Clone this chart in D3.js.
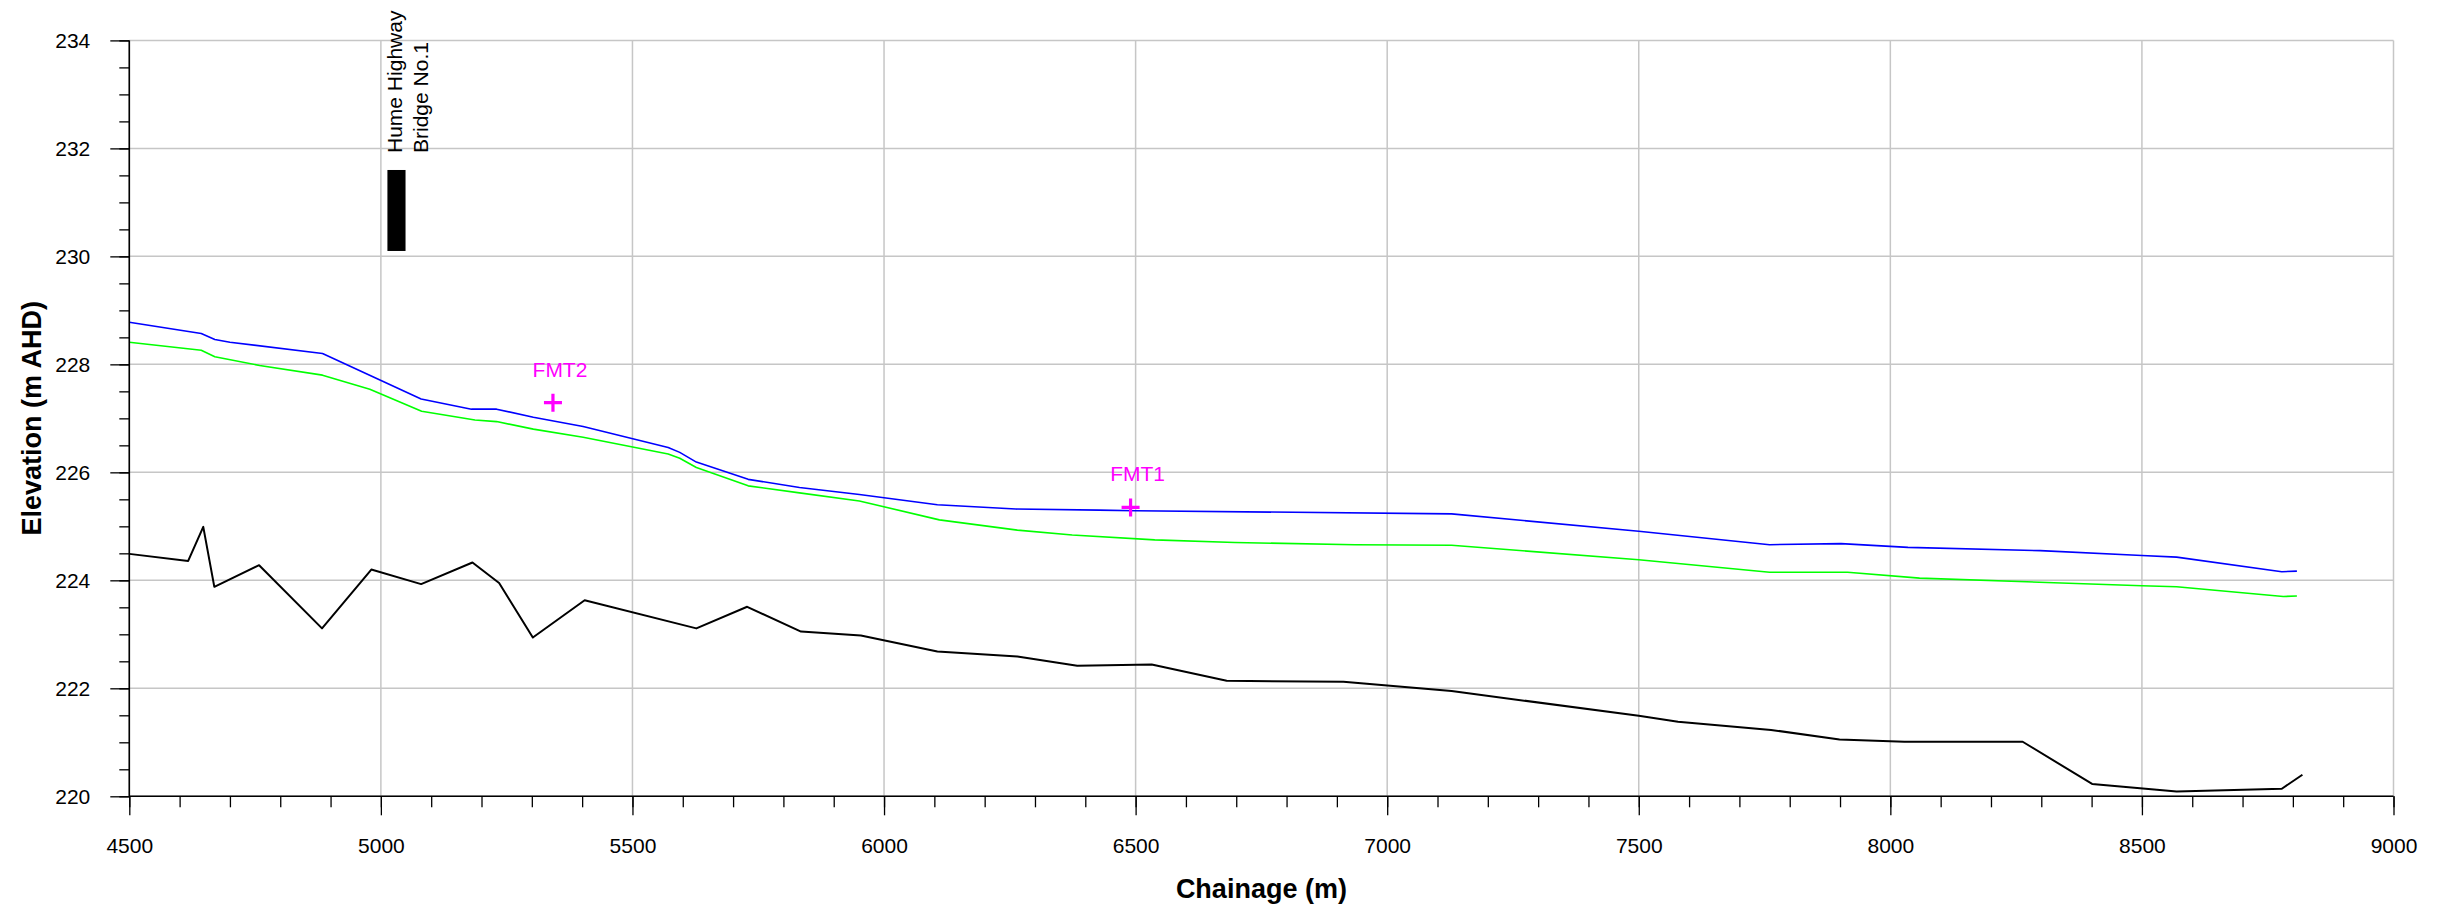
<!DOCTYPE html>
<html>
<head>
<meta charset="utf-8">
<script src="https://cdn.jsdelivr.net/npm/d3@7"></script>
<style>
  body { margin: 0; background: #fff; }
  svg { display: block; font-family: "Liberation Sans", Arial, sans-serif; }
</style>
</head>
<body>
<svg id="chart"></svg>
<script>
// water level (blue)
const blueChainage = [4500, 4643, 4670, 4700, 4884, 5080, 5180, 5230, 5303, 5402, 5571, 5594, 5627, 5730, 5832, 5951, 6106, 6262, 6427, 6500, 7128, 7500, 7760, 7902, 8035, 8298, 8500, 8569, 8778, 8808];
const blueLevel = [228.78, 228.57, 228.46, 228.41, 228.20, 227.36, 227.17, 227.17, 227.02, 226.85, 226.46, 226.37, 226.19, 225.87, 225.72, 225.59, 225.40, 225.32, 225.30, 225.29, 225.23, 224.91, 224.66, 224.68, 224.61, 224.55, 224.46, 224.43, 224.16, 224.17];

// water level (green)
const greenChainage = [4500, 4643, 4670, 4759, 4884, 4978, 5081, 5187, 5230, 5303, 5402, 5571, 5594, 5627, 5730, 5832, 5951, 6110, 6265, 6374, 6538, 6697, 6936, 7128, 7500, 7760, 7915, 8058, 8500, 8569, 8781, 8808];
const greenLevel = [228.41, 228.26, 228.14, 227.98, 227.80, 227.54, 227.13, 226.97, 226.94, 226.80, 226.65, 226.34, 226.26, 226.09, 225.75, 225.62, 225.47, 225.12, 224.93, 224.84, 224.75, 224.70, 224.66, 224.65, 224.38, 224.15, 224.15, 224.04, 223.90, 223.88, 223.70, 223.71];

// bed level (black)
const bedChainage = [4500, 4617, 4647, 4669, 4758, 4883, 4981, 5080, 5182, 5235, 5302, 5405, 5627, 5728, 5835, 5954, 6106, 6265, 6384, 6532, 6681, 6913, 7128, 7500, 7578, 7763, 7899, 8028, 8263, 8401, 8569, 8778, 8819];
const bedLevel = [224.49, 224.36, 224.99, 223.88, 224.28, 223.11, 224.20, 223.93, 224.33, 223.95, 222.94, 223.63, 223.11, 223.51, 223.05, 222.98, 222.68, 222.59, 222.42, 222.44, 222.14, 222.12, 221.95, 221.49, 221.38, 221.23, 221.05, 221.01, 221.01, 220.23, 220.09, 220.14, 220.40];

// flood marks
const markNames = ["FMT2", "FMT1"];
const markChainage = [5342, 6490];
const markLevel = [227.29, 225.35];

// bridge
const bridgeLabel = ["Hume Highway", "Bridge No.1"];
const bridgeChainage = [5013, 5049];
const bridgeLevel = [230.1, 231.6];

// axes
const xTicks = d3.range(4500, 9001, 500);
const xMinorTicks = d3.range(4500, 9001, 100);
const yTicks = d3.range(220, 234.1, 2);
const yMinorTicks = d3.range(220, 234.1, 0.5);

const W = 2443, H = 910;
const margin = {top: 40.4, right: 49.5, bottom: 113.7, left: 129.3};
const width = W - margin.left - margin.right;
const height = H - margin.top - margin.bottom;
const gridColor = "#c6c6c6";
const fontFamily = '"Liberation Sans", Arial, sans-serif';

const svg = d3.select("#chart")
    .attr("width", W)
    .attr("height", H);

const g = svg.append("g")
    .attr("transform", `translate(${margin.left},${margin.top})`);

const x = d3.scaleLinear().domain([4500, 9000]).range([0, width]);
const y = d3.scaleLinear().domain([220, 234]).range([height, 0]);

// grid
g.append("g")
  .selectAll("line")
  .data(yTicks)
  .join("line")
    .attr("x1", 0).attr("x2", width)
    .attr("y1", d => y(d)).attr("y2", d => y(d))
    .attr("stroke", gridColor)
    .attr("stroke-width", 1.5);

g.append("g")
  .selectAll("line")
  .data(xTicks)
  .join("line")
    .attr("x1", d => x(d)).attr("x2", d => x(d))
    .attr("y1", 0).attr("y2", height)
    .attr("stroke", gridColor)
    .attr("stroke-width", 1.5);

// series
const line = d3.line()
    .x(d => x(d[0]))
    .y(d => y(d[1]));

const series = [
    {pts: d3.zip(bedChainage, bedLevel), color: "#000000", w: 2},
    {pts: d3.zip(greenChainage, greenLevel), color: "#00ff00", w: 1.6},
    {pts: d3.zip(blueChainage, blueLevel), color: "#0000ff", w: 1.6}
];

g.append("g")
  .selectAll("path")
  .data(series)
  .join("path")
    .attr("d", d => line(d.pts))
    .attr("fill", "none")
    .attr("stroke", d => d.color)
    .attr("stroke-width", d => d.w)
    .attr("stroke-linejoin", "round");

// bridge deck
g.append("rect")
    .attr("x", x(bridgeChainage[0]))
    .attr("y", y(bridgeLevel[1]))
    .attr("width", x(bridgeChainage[1]) - x(bridgeChainage[0]))
    .attr("height", y(bridgeLevel[0]) - y(bridgeLevel[1]))
    .attr("fill", "#000");

g.append("g")
  .selectAll("text")
  .data(bridgeLabel)
  .join("text")
    .attr("transform", (d, i) => `translate(${x(bridgeChainage[0]) + 15 + i * 26},${y(bridgeLevel[1]) - 17}) rotate(-90)`)
    .attr("font-size", 21)
    .attr("fill", "#000")
    .text(d => d);

// flood marks
const marks = g.append("g")
  .selectAll("g")
  .data(d3.zip(markNames, markChainage, markLevel))
  .join("g")
    .attr("transform", d => `translate(${x(d[1])},${y(d[2])})`);

marks.append("path")
    .attr("d", "M-9,0H9M0,-9V9")
    .attr("stroke", "#ff00ff")
    .attr("stroke-width", 3.2);

marks.append("text")
    .attr("x", 7)
    .attr("y", -26)
    .attr("text-anchor", "middle")
    .attr("font-size", 21)
    .attr("fill", "#ff00ff")
    .text(d => d[0]);

// axes
const styleAxis = sel => {
    sel.attr("font-family", fontFamily).attr("font-size", 21);
    sel.select(".domain").remove();
    sel.selectAll(".tick line").attr("stroke", "#000").attr("stroke-width", 1.3);
    sel.selectAll(".tick text").attr("fill", "#000");
};

g.append("g")
    .attr("transform", `translate(0,${height})`)
    .call(d3.axisBottom(x).tickValues(xMinorTicks).tickSize(11).tickFormat(""))
    .call(styleAxis);

g.append("g")
    .attr("transform", `translate(0,${height})`)
    .call(d3.axisBottom(x).tickValues(xTicks).tickSize(19).tickPadding(23).tickFormat(d3.format("d")))
    .call(styleAxis);

g.append("g")
    .call(d3.axisLeft(y).tickValues(yMinorTicks).tickSize(10).tickFormat(""))
    .call(styleAxis);

g.append("g")
    .call(d3.axisLeft(y).tickValues(yTicks).tickSize(19).tickPadding(20).tickFormat(d3.format("d")))
    .call(styleAxis);

// axis lines
g.append("line")
    .attr("x1", 0).attr("x2", width)
    .attr("y1", height).attr("y2", height)
    .attr("stroke", "#000").attr("stroke-width", 1.6);

g.append("line")
    .attr("x1", 0).attr("x2", 0)
    .attr("y1", 0).attr("y2", height)
    .attr("stroke", "#000").attr("stroke-width", 1.6);

// titles
svg.append("text")
    .attr("x", margin.left + width / 2)
    .attr("y", 898)
    .attr("text-anchor", "middle")
    .attr("font-size", 27)
    .attr("font-weight", "bold")
    .text("Chainage (m)");

svg.append("text")
    .attr("transform", `translate(41,${margin.top + height / 2}) rotate(-90)`)
    .attr("text-anchor", "middle")
    .attr("font-size", 27)
    .attr("font-weight", "bold")
    .text("Elevation (m AHD)");
</script>
</body>
</html>
